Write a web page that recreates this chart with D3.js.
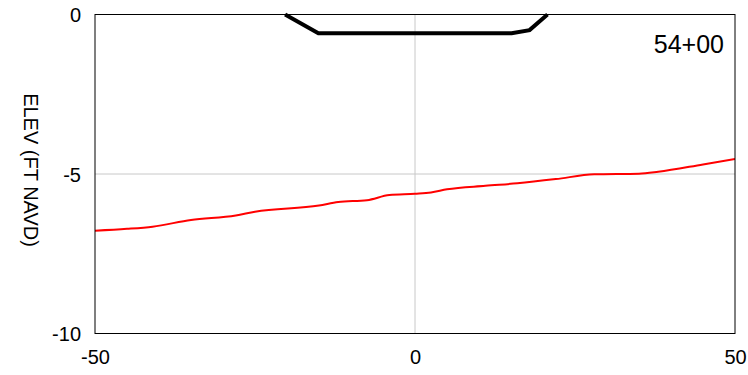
<!DOCTYPE html>
<html><head><meta charset="utf-8">
<script src="https://cdn.jsdelivr.net/npm/d3@7"></script>
<style>body{margin:0;background:#fff}svg{display:block}text{font-family:"Liberation Sans",Arial,sans-serif;fill:#000}</style>
</head><body><svg id="c" width="748" height="375"></svg>
<script>
const groundX = [-50,-45,-41,-35,-28,-25,-15,-12,-7.5,-4,0,2.5,5,11,16,22,28,35,38,45,50];
const groundY = [-6.78,-6.72,-6.65,-6.44,-6.30,-6.18,-5.99,-5.88,-5.82,-5.66,-5.62,-5.58,-5.48,-5.37,-5.29,-5.16,-5.01,-4.99,-4.93,-4.70,-4.53];
const templateX = [-20.3,-15.1,15.1,17.9,20.7];
const templateY = [0,-0.59,-0.59,-0.49,0];
const xTicks = [-50,0,50];
const yTicks = [0,-5,-10];
const stationLabel = "54+00";
const yTitle = "ELEV (FT NAVD)";

const svg = d3.select("#c");
const L=95,R=735,T=14.5,B=333.5;
const x = d3.scaleLinear().domain([-50,50]).range([L,R]);
const y = d3.scaleLinear().domain([-10,0]).range([B,T]);
const fmt = d => String(d);

// gridlines
svg.append("g").selectAll("line").data(xTicks.filter(d=>d!==-50&&d!==50)).join("line")
  .attr("x1",d=>x(d)).attr("x2",d=>x(d)).attr("y1",T).attr("y2",B)
  .attr("stroke","#c8c8c8").attr("stroke-width",1);
svg.append("g").selectAll("line").data(yTicks.filter(d=>d!==0&&d!==-10)).join("line")
  .attr("y1",d=>y(d)).attr("y2",d=>y(d)).attr("x1",L).attr("x2",R)
  .attr("stroke","#c8c8c8").attr("stroke-width",1);

svg.append("clipPath").attr("id","cp").append("rect")
  .attr("x",L).attr("y",T-3).attr("width",R-L).attr("height",B-T+3);

const line = d3.line().x(d=>x(d[0])).y(d=>y(d[1])).curve(d3.curveMonotoneX);
svg.append("path").datum(groundX.map((v,i)=>[v,groundY[i]]))
  .attr("d",line).attr("fill","none").attr("stroke","#ff0000").attr("stroke-width",2)
  .attr("clip-path","url(#cp)");

// border
svg.append("rect").attr("x",L).attr("y",T).attr("width",R-L).attr("height",B-T)
  .attr("fill","none").attr("stroke","#000").attr("stroke-width",1);

const tline = d3.line().x(d=>x(d[0])).y(d=>y(d[1]));
svg.append("path").datum(templateX.map((v,i)=>[v,templateY[i]]))
  .attr("d",tline).attr("fill","none").attr("stroke","#000").attr("stroke-width",4)
  .attr("stroke-linejoin","miter");

// axes labels
const xa = d3.axisBottom(x).tickValues(xTicks).tickSize(0).tickPadding(0).tickFormat(fmt);
const gx = svg.append("g").attr("transform",`translate(0,${B})`).call(xa);
gx.select(".domain").remove();
gx.selectAll("text").attr("font-size",20).attr("dy",null).attr("y",30.5)
  .style("font-family","'Liberation Sans',Arial,sans-serif");

const ya = d3.axisLeft(y).tickValues(yTicks).tickSize(0).tickPadding(14).tickFormat(fmt);
const gy = svg.append("g").attr("transform",`translate(${L},0)`).call(ya);
gy.select(".domain").remove();
gy.selectAll("text").attr("font-size",20).attr("dy","0.35em")
  .style("font-family","'Liberation Sans',Arial,sans-serif");

svg.append("text").attr("transform",`translate(23.5,170) rotate(90)`)
  .attr("text-anchor","middle").attr("font-size",20).text(yTitle);

svg.append("text").attr("x",724).attr("y",53).attr("text-anchor","end")
  .attr("font-size",25).text(stationLabel);
</script></body></html>
